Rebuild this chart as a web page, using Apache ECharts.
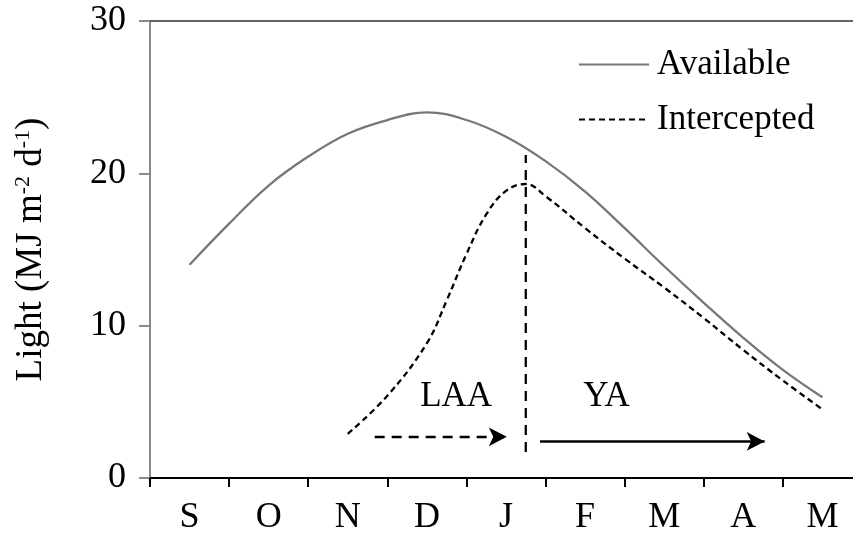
<!DOCTYPE html>
<html>
<head>
<meta charset="utf-8">
<script src="https://cdn.jsdelivr.net/npm/echarts@6/dist/echarts.min.js"></script>
<style>
  html, body { margin: 0; padding: 0; background: #ffffff; }
  #chart { width: 853px; height: 535px; }
</style>
</head>
<body>
<div id="chart"></div>
<script>
// month labels on the x axis
const months = ['S', 'O', 'N', 'D', 'J', 'F', 'M', 'A', 'M']
const yTicks = [0, 10, 20, 30]

// x = month index (S = 0), y = MJ m-2 d-1
const availX = [0, 0.5, 1, 1.5, 2, 2.5, 3, 3.5, 4, 4.5, 5, 5.5, 6, 6.5, 7, 7.5, 8]
const availY = [14.0, 16.7, 19.2, 21.1, 22.6, 23.5, 24.0, 23.5, 22.4, 20.8, 18.8, 16.4, 13.9, 11.5, 9.2, 7.1, 5.3]

const interX = [2, 2.5, 3, 3.25, 3.5, 3.75, 4, 4.25, 4.5, 5, 5.5, 6, 6.5, 7, 7.5, 8]
const interY = [2.9, 5.4, 8.85, 11.65, 14.7, 17.3, 18.85, 19.3, 18.5, 16.4, 14.4, 12.5, 10.5, 8.4, 6.4, 4.5]

// vertical divider between LAA and YA
const dividerX = [4.25, 4.25]
const dividerY = [1.7, 21.2]

// phase arrows [x0, x1, y]
const laaArrow = [2.34, 4.01, 2.7]
const yaArrow = [4.43, 7.27, 2.4]

const phaseNames = ['LAA', 'YA']
const phaseX = [3.37, 5.27]
const phaseY = [5.3, 5.3]

const font = 'Liberation Serif'
const zip = (xs, ys) => xs.map((x, i) => [x, ys[i]])

const chart = echarts.init(document.getElementById('chart'))

const option = {
  backgroundColor: '#ffffff',
  animation: false,
  textStyle: { fontFamily: font },
  grid: { left: 150, right: -9, top: 21, bottom: 57, outerBoundsMode: 'none', containLabel: false },
  legend: {
    data: ['Available', 'Intercepted'],
    orient: 'vertical',
    left: 578,
    top: 47,
    padding: 0,
    itemWidth: 70,
    itemHeight: 14,
    itemGap: 20,
    itemStyle: { opacity: 0 },
    textStyle: { fontFamily: font, fontSize: 35, color: '#000', lineHeight: 34, padding: [0, 0, 0, 3] }
  },
  xAxis: [
    {
      type: 'category',
      data: months,
      position: 'bottom',
      boundaryGap: true,
      axisLine: { show: true, onZero: false, lineStyle: { color: '#000', width: 2 } },
      axisTick: { show: true, length: 9, lineStyle: { color: '#000', width: 2 } },
      axisLabel: { fontFamily: font, fontSize: 36, color: '#000', margin: 22 },
      splitLine: { show: false }
    },
    {
      type: 'value',
      min: -0.5,
      max: 8.5,
      position: 'top',
      axisLine: { show: true, onZero: false, lineStyle: { color: '#333333', width: 1.5 } },
      axisTick: { show: false },
      axisLabel: { show: false },
      splitLine: { show: false }
    }
  ],
  yAxis: {
    type: 'value',
    min: yTicks[0],
    max: yTicks[yTicks.length - 1],
    interval: 10,
    name: '{a|Light (MJ m}{s|-2}{a| d}{s|-1}{a|)}',
    nameLocation: 'middle',
    nameRotate: 90,
    nameGap: 100,
    nameTextStyle: {
      rich: {
        a: { fontFamily: font, fontSize: 37, color: '#000', lineHeight: 38 },
        s: { fontFamily: font, fontSize: 22, color: '#000', verticalAlign: 'top', lineHeight: 38 }
      }
    },
    axisLine: { show: true, onZero: false, lineStyle: { color: '#8a8a8a', width: 2 } },
    axisTick: { show: true, length: 11, lineStyle: { color: '#8a8a8a', width: 2 } },
    axisLabel: { fontFamily: font, fontSize: 36, color: '#000', margin: 24 },
    splitLine: { show: false }
  },
  series: [
    {
      name: 'Available',
      type: 'line',
      xAxisIndex: 1,
      data: zip(availX, availY),
      smooth: 0.4,
      symbol: 'none',
      lineStyle: { color: '#777777', width: 2.3 },
      itemStyle: { color: '#777777' }
    },
    {
      name: 'Intercepted',
      type: 'line',
      xAxisIndex: 1,
      data: zip(interX, interY),
      smooth: 0.4,
      symbol: 'none',
      lineStyle: { color: '#000', width: 2.3, type: [6, 4] },
      itemStyle: { color: '#000' }
    },
    {
      name: 'divider',
      type: 'line',
      xAxisIndex: 1,
      data: zip(dividerX, dividerY),
      symbol: 'none',
      lineStyle: { color: '#000', width: 2.3, type: [10, 7] },
      silent: true
    },
    {
      name: 'arrows',
      type: 'line',
      xAxisIndex: 1,
      data: [],
      markLine: {
        silent: true,
        symbol: ['none', 'arrow'],
        symbolSize: [14, 18],
        label: { show: false },
        data: [
          [
            { coord: [laaArrow[0], laaArrow[2]], lineStyle: { color: '#000', width: 2.3, type: [10, 7] } },
            { coord: [laaArrow[1], laaArrow[2]] }
          ],
          [
            { coord: [yaArrow[0], yaArrow[2]], lineStyle: { color: '#000', width: 2.5, type: 'solid' } },
            { coord: [yaArrow[1], yaArrow[2]] }
          ]
        ]
      }
    },
    {
      name: 'phases',
      type: 'scatter',
      xAxisIndex: 1,
      symbolSize: 0,
      silent: true,
      itemStyle: { opacity: 1 },
      data: phaseNames.map((n, i) => ({ value: [phaseX[i], phaseY[i]], name: n })),
      label: {
        show: true,
        position: 'inside',
        formatter: p => p.name,
        fontFamily: font,
        fontSize: 35,
        color: '#000',
        opacity: 1
      }
    }
  ]
}

chart.setOption(option)
</script>
</body>
</html>
